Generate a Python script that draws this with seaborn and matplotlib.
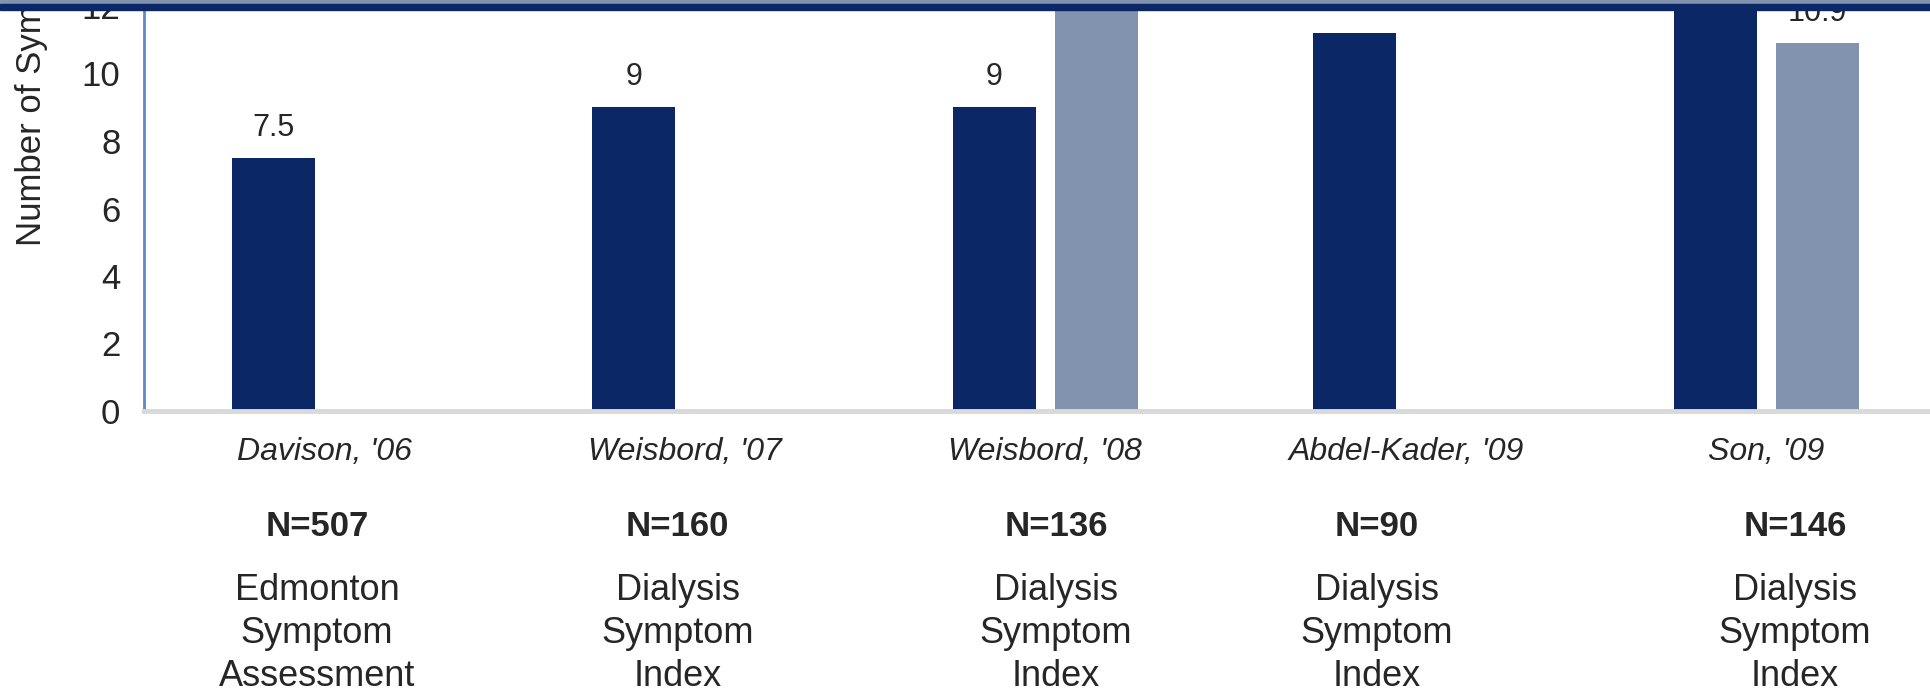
import pandas as pd
import seaborn as sns
import matplotlib.pyplot as plt
from matplotlib.patches import Rectangle
from matplotlib.transforms import blended_transform_factory


studies = ["Davison, '06", "Weisbord, '07", "Weisbord, '08", "Abdel-Kader, '09", "Son, '09"]
series_a = [7.5, 9, 9, 11.2, 13.4]
series_b = [None, None, 12.8, None, 10.9]
sample_sizes = ["N=507", "N=160", "N=136", "N=90", "N=146"]
instruments = ["Edmonton\nSymptom\nAssessment", "Dialysis\nSymptom\nIndex", "Dialysis\nSymptom\nIndex",
               "Dialysis\nSymptom\nIndex", "Dialysis\nSymptom\nIndex"]
note_x = [-0.02, 0.98, 2.03, 2.92, 4.08]

DARK = "#0B2766"
LIGHT = "#8193AE"


def main():
    rows = []
    for s, a, b in zip(studies, series_a, series_b):
        if a is not None:
            rows.append({"study": s, "series": "A", "value": a})
        if b is not None:
            rows.append({"study": s, "series": "B", "value": b})
    df = pd.DataFrame(rows)

    sns.set_style("white")
    plt.rcParams["font.family"] = ["Liberation Sans", "DejaVu Sans"]

    fig = plt.figure(figsize=(19.31, 6.94), dpi=100)
    unit = 33.75
    ax = fig.add_axes([144 / 1931, 283 / 694, 5 * 360.5 / 1931, 14 * unit / 694])

    sns.barplot(data=df, x="study", y="value", hue="series", order=studies, hue_order=["A", "B"],
                palette=[DARK, LIGHT], saturation=1, width=0.566, gap=0.19, errorbar=None,
                linewidth=0, legend=False, ax=ax)

    for c in ax.containers:
        ax.bar_label(c, fmt="%g", padding=11, fontsize=22)

    ax.set_xlim(-0.5, 4.5)
    ax.set_ylim(0, 14)
    ax.set_yticks(range(0, 15, 2))
    ax.set_xlabel("")
    ax.set_ylabel("Number of Symptoms", fontsize=25)
    ax.yaxis.set_label_coords(-0.053, 0.704)
    ax.tick_params(axis="y", length=0, pad=17, labelsize=25)
    ax.tick_params(axis="x", length=0, pad=19)
    for lbl in ax.get_xticklabels():
        lbl.set_fontstyle("italic")
        lbl.set_fontsize(23)

    for side in ["top", "right"]:
        ax.spines[side].set_visible(False)
    ax.spines["left"].set_color("#5B8BC9")
    ax.spines["left"].set_linewidth(2)
    ax.spines["bottom"].set_color("#D9D9D9")
    ax.spines["bottom"].set_linewidth(3.5)

    tr = blended_transform_factory(ax.transData, fig.transFigure)
    for x, n, ins in zip(note_x, sample_sizes, instruments):
        ax.text(x, 1 - 527 / 694, n, transform=tr, ha="center", va="center",
                fontsize=25, fontweight="bold", clip_on=False)
        ax.text(x, 1 - 573 / 694, ins, transform=tr, ha="center", va="top",
                fontsize=26, linespacing=1.3, clip_on=False)

    # slide header band
    fig.add_artist(Rectangle((0, 1 - 4 / 694), 1, 4 / 694, transform=fig.transFigure,
                             color=LIGHT, zorder=5))
    fig.add_artist(Rectangle((0, 1 - 10 / 694), 1, 6 / 694, transform=fig.transFigure,
                             color=DARK, zorder=5))

    plt.savefig("out.png", dpi=100)


if __name__ == "__main__":
    main()
